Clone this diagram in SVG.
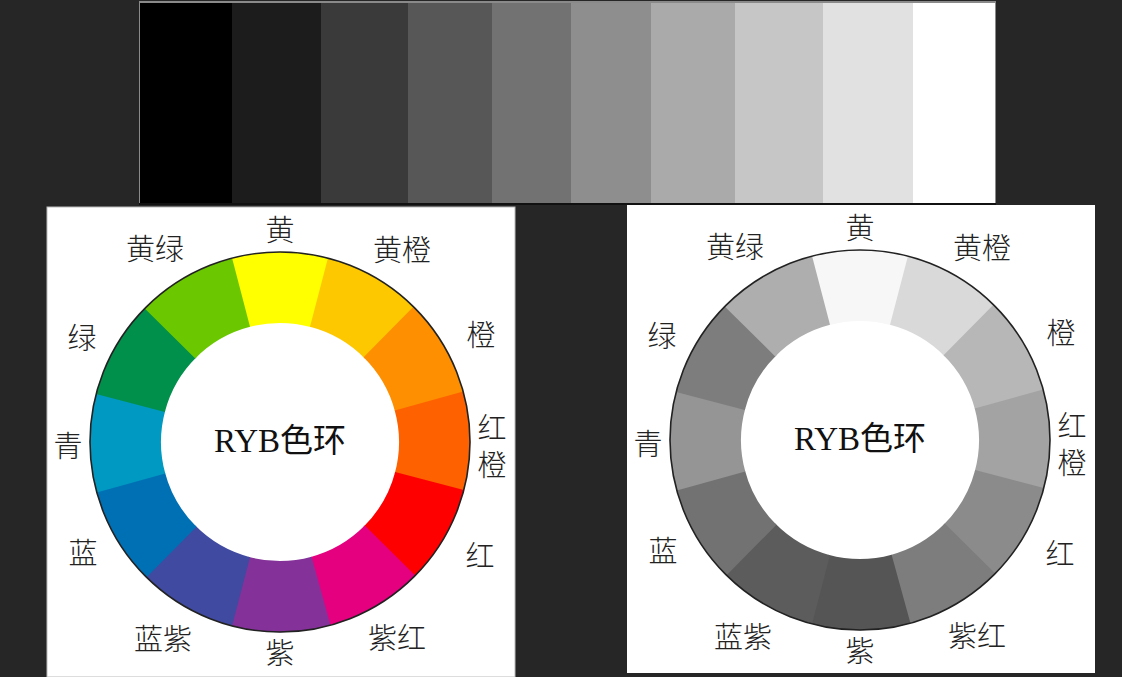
<svg xmlns="http://www.w3.org/2000/svg" xmlns:xlink="http://www.w3.org/1999/xlink" width="1122" height="677" viewBox="0 0 1122 677">
<style>
.lbl{font-family:"Noto Sans CJK SC","Liberation Serif",serif;font-size:29px;font-weight:300;fill:#222;text-anchor:middle}
.vert{writing-mode:vertical-rl;text-anchor:start;letter-spacing:8px}
.title{font-family:"Liberation Serif","Noto Sans CJK SC",serif;font-size:33px;fill:#111;text-anchor:middle}
.ring{fill:none;stroke:#222;stroke-width:1.6}
.panel{fill:#fff}
</style>
<defs>
<path id="seg" d="M -50.46 -183.18 A 190 190 0 0 1 50.46 -183.18 L 31.60 -114.73 A 119 119 0 0 0 -31.60 -114.73 Z"/>
</defs>
<rect x="0" y="0" width="1122" height="677" fill="#262626"/>
<g id="strip">
<rect x="139" y="1" width="857" height="204" fill="#8a8a8a"/>
<rect x="140" y="3" width="92" height="200" fill="#000"/>
<rect x="232" y="3" width="89" height="200" fill="#1c1c1c"/>
<rect x="321" y="3" width="87" height="200" fill="#3a3a3a"/>
<rect x="408" y="3" width="84" height="200" fill="#575757"/>
<rect x="492" y="3" width="79" height="200" fill="#727272"/>
<rect x="571" y="3" width="80" height="200" fill="#8e8e8e"/>
<rect x="651" y="3" width="84" height="200" fill="#aaaaaa"/>
<rect x="735" y="3" width="88" height="200" fill="#c6c6c6"/>
<rect x="823" y="3" width="90" height="200" fill="#e1e1e1"/>
<rect x="913" y="3" width="82" height="200" fill="#fff"/>
<rect x="139" y="203" width="857" height="2" fill="#111"/>
</g>
<g id="color-wheel">
<rect class="panel" x="47" y="207" width="468" height="470" stroke="#bbb" stroke-width="1"/>
<g transform="translate(280,442)">
<use xlink:href="#seg" fill="#ffff00"/>
<use xlink:href="#seg" fill="#fdc800" transform="rotate(30)"/>
<use xlink:href="#seg" fill="#fe8f00" transform="rotate(60)"/>
<use xlink:href="#seg" fill="#fe6200" transform="rotate(90)"/>
<use xlink:href="#seg" fill="#fe0000" transform="rotate(120)"/>
<use xlink:href="#seg" fill="#e4007f" transform="rotate(150)"/>
<use xlink:href="#seg" fill="#84319a" transform="rotate(180)"/>
<use xlink:href="#seg" fill="#3f4aa0" transform="rotate(210)"/>
<use xlink:href="#seg" fill="#0070b5" transform="rotate(240)"/>
<use xlink:href="#seg" fill="#0099c1" transform="rotate(270)"/>
<use xlink:href="#seg" fill="#00904c" transform="rotate(300)"/>
<use xlink:href="#seg" fill="#6bc700" transform="rotate(330)"/>
<circle class="ring" r="190"/>
</g>
<text class="title" x="280" y="452">RYB色环</text>
<text class="lbl" x="280" y="241">黄</text>
<text class="lbl" x="402" y="261">黄橙</text>
<text class="lbl" x="481" y="346">橙</text>
<text class="lbl vert" x="492" y="413">红橙</text>
<text class="lbl" x="480" y="567">红</text>
<text class="lbl" x="397" y="649">紫红</text>
<text class="lbl" x="280" y="664">紫</text>
<text class="lbl" x="163" y="650">蓝紫</text>
<text class="lbl" x="83" y="564">蓝</text>
<text class="lbl" x="68" y="457">青</text>
<text class="lbl" x="82" y="349">绿</text>
<text class="lbl" x="155" y="260">黄绿</text>
</g>
<g id="gray-wheel">
<rect class="panel" x="627" y="205" width="468" height="468"/>
<g transform="translate(860,440)">
<use xlink:href="#seg" fill="#f7f7f7"/>
<use xlink:href="#seg" fill="#d9d9d9" transform="rotate(30)"/>
<use xlink:href="#seg" fill="#b7b7b7" transform="rotate(60)"/>
<use xlink:href="#seg" fill="#a3a3a3" transform="rotate(90)"/>
<use xlink:href="#seg" fill="#8b8b8b" transform="rotate(120)"/>
<use xlink:href="#seg" fill="#7d7d7d" transform="rotate(150)"/>
<use xlink:href="#seg" fill="#555555" transform="rotate(180)"/>
<use xlink:href="#seg" fill="#5c5c5c" transform="rotate(210)"/>
<use xlink:href="#seg" fill="#727272" transform="rotate(240)"/>
<use xlink:href="#seg" fill="#959595" transform="rotate(270)"/>
<use xlink:href="#seg" fill="#7d7d7d" transform="rotate(300)"/>
<use xlink:href="#seg" fill="#aeaeae" transform="rotate(330)"/>
<circle class="ring" r="190"/>
</g>
<text class="title" x="860" y="450">RYB色环</text>
<text class="lbl" x="860" y="239">黄</text>
<text class="lbl" x="982" y="259">黄橙</text>
<text class="lbl" x="1061" y="344">橙</text>
<text class="lbl vert" x="1072" y="411">红橙</text>
<text class="lbl" x="1060" y="565">红</text>
<text class="lbl" x="977" y="647">紫红</text>
<text class="lbl" x="860" y="662">紫</text>
<text class="lbl" x="743" y="648">蓝紫</text>
<text class="lbl" x="663" y="562">蓝</text>
<text class="lbl" x="648" y="455">青</text>
<text class="lbl" x="662" y="347">绿</text>
<text class="lbl" x="735" y="258">黄绿</text>
</g>
</svg>
